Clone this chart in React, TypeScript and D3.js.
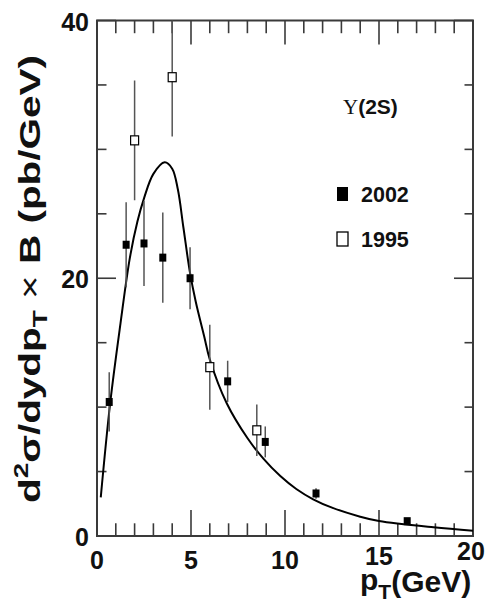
import React from 'react';
import * as d3 from 'd3';

const xDomain = [0, 20];
const yDomain = [0, 40];
const xTickLabels = [0, 5, 10, 15, 20];
const yTickLabels = [0, 20, 40];

// 2002 data (filled squares)
const pt2002 = [0.65, 1.55, 2.5, 3.5, 4.95, 6.95, 8.95, 11.65, 16.5];
const val2002 = [10.4, 22.6, 22.7, 21.6, 20.0, 12.0, 7.3, 3.3, 1.15];
const err2002 = [2.3, 3.3, 3.3, 3.5, 2.4, 1.6, 1.2, 0.4, 0.25];

// 1995 data (open squares)
const pt1995 = [2.0, 4.0, 6.0, 8.5];
const val1995 = [30.7, 35.6, 13.1, 8.2];
const err1995 = [4.65, 4.6, 3.3, 2.0];

// fitted curve
const curvePt = [0.2, 0.7, 1.25, 1.75, 2.15, 2.5, 3.0, 3.6, 4.0, 4.3, 4.6, 4.95, 5.25, 5.7, 6.0, 6.9, 8.0, 8.85, 9.75, 10.6, 11.5, 12.5, 14.0, 15.0, 17.9, 20.0];
const curveVal = [3.0, 10.3, 16.5, 21.6, 24.4, 26.2, 28.1, 29.0, 28.5, 26.9, 23.9, 20.4, 18.2, 15.5, 13.7, 10.3, 7.6, 6.0, 4.65, 3.65, 2.85, 2.2, 1.5, 1.16, 0.67, 0.41];

const legendLabels = ['2002', '1995'];

export default function App() {
  const L = 97, R = 473, T = 20.5, B = 536;
  const x = d3.scaleLinear().domain(xDomain).range([L, R]);
  const y = d3.scaleLinear().domain(yDomain).range([B, T]);
  const line = d3
    .line<number>()
    .x((_, i) => x(curvePt[i]))
    .y((d) => y(d))
    .curve(d3.curveCatmullRom.alpha(0.5));

  const axisColor = '#3a3a3a';
  const errColor = '#555';
  const font = "'Liberation Sans', Arial, Helvetica, sans-serif";

  const xTicks = d3.range(xDomain[0], xDomain[1] + 1, 1);
  const yTicks = d3.range(yDomain[0], yDomain[1] + 1, 5);

  return (
    <svg
      width={489}
      height={605}
      style={{ position: 'absolute', left: 0, top: 0, background: '#fff' }}
      xmlns="http://www.w3.org/2000/svg"
    >
      <defs>
        <clipPath id="plotclip">
          <rect x={L} y={T} width={R - L} height={B - T} />
        </clipPath>
      </defs>
      <rect x={0} y={0} width={489} height={605} fill="#fff" />

      {/* frame */}
      <rect x={L} y={T} width={R - L} height={B - T} fill="none" stroke={axisColor} strokeWidth={2} />

      {/* x ticks */}
      {xTicks.map((v) => {
        const major = v % 5 === 0;
        return (
          <g key={'xt' + v} stroke={axisColor} strokeWidth={1.6}>
            <line x1={x(v)} x2={x(v)} y1={B} y2={B - (major ? 26 : 12.7)} />
            <line x1={x(v)} x2={x(v)} y1={T} y2={T + (major ? 24 : 12.7)} />
          </g>
        );
      })}
      {/* y ticks */}
      {yTicks.map((v) => {
        const major = v % 20 === 0;
        return (
          <g key={'yt' + v} stroke={axisColor} strokeWidth={1.6}>
            <line x1={L} x2={L + (major ? 19 : 9.5)} y1={y(v)} y2={y(v)} />
            <line x1={R} x2={R - (major ? 19 : 8.5)} y1={y(v)} y2={y(v)} />
          </g>
        );
      })}

      {/* tick labels */}
      {xTickLabels.map((v) => (
        <text
          key={'xl' + v}
          x={v === 20 ? x(v) - 2 : x(v)}
          y={v === 20 ? 560 : v === 15 ? 565 : 569}
          textAnchor="middle"
          fontFamily={font}
          fontWeight="bold"
          fontSize={25}
          fill="#111"
        >
          {v}
        </text>
      ))}
      {yTickLabels.map((v) => (
        <text
          key={'yl' + v}
          x={89}
          y={y(v) + 10}
          textAnchor="end"
          fontFamily={font}
          fontWeight="bold"
          fontSize={25}
          fill="#111"
        >
          {v}
        </text>
      ))}

      {/* axis titles */}
      <text x={360} y={590} fontFamily={font} fontWeight="bold" fontSize={30} fill="#111">
        <tspan>p</tspan>
        <tspan fontSize={21} dy={9}>T</tspan>
        <tspan dy={-7}>(GeV)</tspan>
      </text>
      <text
        transform="translate(40,503) rotate(-90)"
        textAnchor="start"
        textLength={448}
        lengthAdjust="spacingAndGlyphs"
        fontFamily={font}
        fontWeight="bold"
        fontSize={29}
        fill="#111"
      >
        <tspan>d</tspan>
        <tspan fontSize={20} dy={-12}>2</tspan>
        <tspan dy={12}>σ/dydp</tspan>
        <tspan fontSize={20} dy={7}>T</tspan>
        <tspan dy={-7} fontWeight="normal"> × </tspan>
        <tspan>B (pb/GeV)</tspan>
      </text>

      {/* curve */}
      <g clipPath="url(#plotclip)">
        <path d={line(curveVal) || ''} fill="none" stroke="#000" strokeWidth={2} />

        {/* error bars */}
        {pt2002.map((p, i) => (
          <line
            key={'e2' + i}
            x1={x(p)}
            x2={x(p)}
            y1={y(val2002[i] - err2002[i])}
            y2={y(val2002[i] + err2002[i])}
            stroke={errColor}
            strokeWidth={1.5}
          />
        ))}
        {pt1995.map((p, i) => (
          <line
            key={'e1' + i}
            x1={x(p)}
            x2={x(p)}
            y1={y(val1995[i] - err1995[i])}
            y2={y(val1995[i] + err1995[i])}
            stroke={errColor}
            strokeWidth={1.5}
          />
        ))}

        {/* markers */}
        {pt2002.map((p, i) => (
          <rect key={'m2' + i} x={x(p) - 3.5} y={y(val2002[i]) - 4} width={7} height={8} fill="#000" />
        ))}
        {pt1995.map((p, i) => (
          <rect
            key={'m1' + i}
            x={x(p) - 4}
            y={y(val1995[i]) - 4.5}
            width={8}
            height={9}
            fill="#fff"
            stroke="#000"
            strokeWidth={1.2}
          />
        ))}
      </g>

      {/* label */}
      <text x={343} y={114} fontSize={21} fill="#111">
        <tspan fontFamily="'Liberation Serif', 'DejaVu Serif', serif">Υ</tspan>
        <tspan fontFamily={font} fontWeight="bold">(2S)</tspan>
      </text>

      {/* legend */}
      <rect x={337} y={187} width={11} height={14} fill="#000" />
      <text x={361} y={202} fontFamily={font} fontWeight="bold" fontSize={21.5} fill="#111">
        {legendLabels[0]}
      </text>
      <rect x={337} y={232} width={11} height={14} fill="#fff" stroke="#000" strokeWidth={1.3} />
      <text x={361} y={246.5} fontFamily={font} fontWeight="bold" fontSize={21.5} fill="#111">
        {legendLabels[1]}
      </text>
    </svg>
  );
}
